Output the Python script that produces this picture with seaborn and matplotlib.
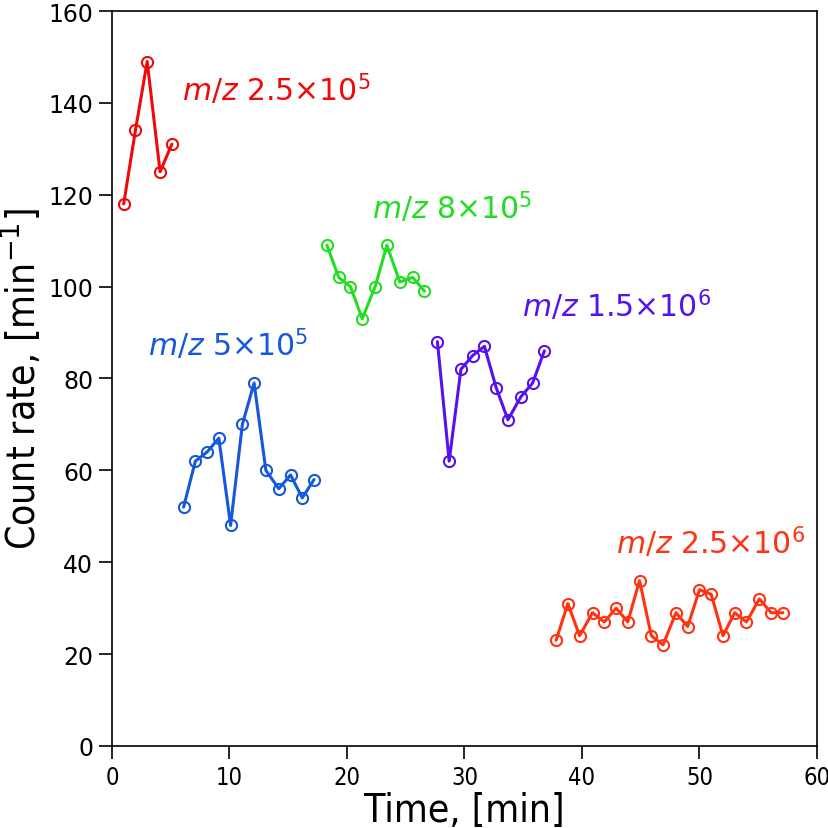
import pandas as pd
import seaborn as sns
import matplotlib
matplotlib.use("Agg")
import matplotlib.pyplot as plt

# data
t_a = [1.0, 2.0, 3.0, 4.1, 5.1]
rate_a = [118, 134, 149, 125, 131]

t_b = [6.1, 7.1, 8.1, 9.1, 10.1, 11.1, 12.1, 13.1, 14.2, 15.2, 16.2, 17.2]
rate_b = [52, 62, 64, 67, 48, 70, 79, 60, 56, 59, 54, 58]

t_c = [18.3, 19.3, 20.3, 21.3, 22.4, 23.4, 24.5, 25.6, 26.6]
rate_c = [109, 102, 100, 93, 100, 109, 101, 102, 99]

t_d = [27.7, 28.7, 29.7, 30.7, 31.7, 32.7, 33.7, 34.8, 35.8, 36.8]
rate_d = [88, 62, 82, 85, 87, 78, 71, 76, 79, 86]

t_e = [37.8, 38.8, 39.8, 40.9, 41.9, 42.9, 43.9, 44.9, 45.9, 46.9,
       48.0, 49.0, 50.0, 51.0, 52.0, 53.0, 54.0, 55.1, 56.1, 57.1]
rate_e = [23, 31, 24, 29, 27, 30, 27, 36, 24, 22,
          29, 26, 34, 33, 24, 29, 27, 32, 29, 29]

x_ticks = [0, 10, 20, 30, 40, 50, 60]
y_ticks = [0, 20, 40, 60, 80, 100, 120, 140, 160]

labels = [r"$m/z$ 2.5×10$^{5}$", r"$m/z$ 5×10$^{5}$", r"$m/z$ 8×10$^{5}$",
          r"$m/z$ 1.5×10$^{6}$", r"$m/z$ 2.5×10$^{6}$"]
label_pos = [(6.0, 143), (3.1, 87.5), (22.1, 117.5), (34.9, 96), (42.9, 44.5)]
colors = ["#ee0a0a", "#1557dd", "#22dd22", "#5511ee", "#ff3311"]

series = [(t_a, rate_a), (t_b, rate_b), (t_c, rate_c), (t_d, rate_d), (t_e, rate_e)]

sns.set_style("ticks")
plt.rcParams['font.family'] = ['DejaVu Sans']
plt.rcParams['text.color'] = 'black'
plt.rcParams['axes.labelcolor'] = 'black'
plt.rcParams['xtick.color'] = 'black'
plt.rcParams['ytick.color'] = 'black'

fig = plt.figure(figsize=(8.29, 8.29), dpi=100)
ax = fig.add_axes([0.135, 0.099, 0.8505, 0.8865])

for (t, r), c, lab, (lx, ly) in zip(series, colors, labels, label_pos):
    df = pd.DataFrame({'time': t, 'rate': r})
    sns.lineplot(x='time', y='rate', data=df, ax=ax, color=c, linewidth=2.2,
                 marker='o', markersize=8, markerfacecolor='none',
                 markeredgecolor=c, markeredgewidth=1.5, sort=False)
    ax.text(lx, ly, lab, color=c, fontsize=21.5, ha='left', va='center')

ax.set_xlim(0, 60)
ax.set_ylim(0, 160)
ax.tick_params(axis='both', labelsize=17, length=9.5, width=1.2,
               direction='out', pad=4)
# x tick numbers are narrow in the original
ax.set_xticks(x_ticks)
ax.set_xticklabels([str(v) for v in x_ticks], fontsize=17, fontstretch='condensed')
ax.set_yticks(y_ticks)
for s in ax.spines.values():
    s.set_visible(True)
    s.set_color('black')
    s.set_linewidth(1.2)

# axis titles use a narrow face in the original
ax.set_xlabel("Time, [min]", fontsize=28, fontstretch='condensed',
              family=['Liberation Sans Narrow', 'DejaVu Sans'], labelpad=2)
ax.set_ylabel(r"Count rate, [min$^{-1}$]", fontsize=28, fontstretch='condensed',
              family=['Liberation Sans Narrow', 'DejaVu Sans'], labelpad=4)

fig.savefig("out.png", dpi=100)
